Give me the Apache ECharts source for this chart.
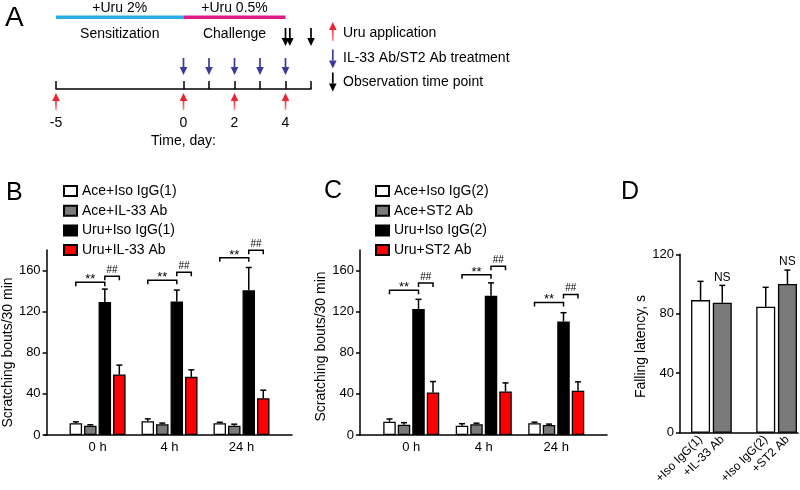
<!DOCTYPE html>
<html><head><meta charset="utf-8">
<script src="https://cdn.jsdelivr.net/npm/echarts@6/dist/echarts.min.js"></script>
<style>html,body{margin:0;padding:0;background:#fff}#c{width:800px;height:490px}</style>
</head><body><div id="c"></div>
<script>
// ---------- Panel A data ----------
const timelineMin = -5, timelineMax = 5;
const timelineTicks = [-5, 0, 1, 2, 3, 4, 5];
const timelineLabels = [-5, 0, 2, 4];
const phaseStart = [-5, 0];
const phaseEnd = [0, 4];
const phaseDose = ['+Uru 2%', '+Uru 0.5%'];
const phaseName = ['Sensitization', 'Challenge'];
const uruDays = [-5, 0, 2, 4];
const abDays = [0, 1, 2, 3, 4];
const obsDays = [4, 4.17, 5];
const arrowLegend = ['Uru application', 'IL-33 Ab/ST2 Ab treatment', 'Observation time point'];

// ---------- Panel B data ----------
const timeCats = ['0 h', '4 h', '24 h'];
const bNames = ['Ace+Iso IgG(1)', 'Ace+IL-33 Ab', 'Uru+Iso IgG(1)', 'Uru+IL-33 Ab'];
const bMeans = [[11.4, 13.5, 11.4], [9, 10.4, 9], [129.5, 130, 140.8], [58.8, 56.6, 35.8]];
const bErr = [[1.4, 2.2, 1.0], [1.0, 1.2, 1.5], [12.5, 11, 22.2], [9.2, 6.8, 7.8]];
const bStarY = [148.6, 150.5, 172.4];
const bHashY = [154.4, 158.3, 179.8];

// ---------- Panel C data ----------
const cNames = ['Ace+Iso IgG(2)', 'Ace+ST2 Ab', 'Uru+Iso IgG(2)', 'Uru+ST2 Ab'];
const cMeans = [[13, 9, 11.4], [10, 10.4, 9.8], [122.6, 135.6, 110.5], [41.3, 42.3, 43]];
const cErr = [[2.6, 2, 1.1], [2, 1.1, 0.8], [9.4, 12.4, 8.5], [10.7, 8.4, 8.7]];
const cStarY = [140.8, 156, 129];
const cHashY = [148, 164.2, 136.6];
const scratchTicks = [0, 40, 80, 120, 160];

// ---------- Panel D data ----------
const dCats = ['+Iso IgG(1)', '+IL-33 Ab', '', '+Iso IgG(2)', '+ST2 Ab'];
const dMeans = [89.2, 87.4, null, 84.7, 100];
const dErr = [12.6, 11.7, null, 13.1, 9.4];
const dSig = ['', 'NS', '', '', 'NS'];
const latencyTicks = [0, 40, 80, 120];

// ---------- styles ----------
const FONT = '"Liberation Sans", Arial, Helvetica, sans-serif';
const BAR_W = 12.5, BAR_STEP = 14.5;
const BAR_COLORS = ['#ffffff', '#7a7a7a', '#000000', '#ff0000'];
const D_COLORS = ['#ffffff', '#7a7a7a', '#ffffff', '#ffffff', '#7a7a7a'];
const PHASE_COLORS = ['#27aee4', '#df1a87'];
const RED = '#ee2430', PINK = '#f7a3aa', BLUE = '#3a3a98', BLACK = '#000000';

function arrow(x, yTail, yTip, color, shaft) {
  const dir = yTip > yTail ? 1 : -1;
  const headL = 8, headW = 3.8;
  const yBase = yTip - dir * headL;
  return [
    { type: 'line', shape: { x1: x, y1: yTail, x2: x, y2: yBase }, style: { stroke: shaft || color, lineWidth: 1.7 } },
    { type: 'polygon', shape: { points: [[x, yTip], [x - headW, yBase], [x + headW, yBase]] }, style: { fill: color } }
  ];
}
function redShaft() {
  return new echarts.graphic.LinearGradient(0, 0, 0, 1, [{ offset: 0, color: RED }, { offset: 1, color: PINK }]);
}

function arrowSeries(days, kind) {
  return {
    type: 'custom', xAxisIndex: 0, yAxisIndex: 0, silent: true, z: 5,
    data: days.map(d => [d, 0]),
    renderItem(params, api) {
      const p = api.coord([api.value(0), 0]);
      const x = p[0], y0 = p[1];
      let ch;
      if (kind === 'uru') ch = arrow(x, y0 + 21, y0 + 4, RED, redShaft());
      else if (kind === 'ab') ch = arrow(x, y0 - 31, y0 - 14, BLUE);
      else ch = arrow(x, y0 - 61, y0 - 43, BLACK);
      return { type: 'group', children: ch };
    }
  };
}

const phaseSeries = {
  type: 'custom', xAxisIndex: 0, yAxisIndex: 0, silent: true,
  data: phaseStart.map((s, i) => [s, phaseEnd[i], i]),
  renderItem(params, api) {
    const a = api.coord([api.value(0), 0]), b = api.coord([api.value(1), 0]);
    const i = api.value(2), y0 = a[1], cx = (a[0] + b[0]) / 2;
    return {
      type: 'group', children: [
        { type: 'rect', shape: { x: a[0], y: y0 - 73.5, width: b[0] - a[0], height: 3.5 }, style: { fill: PHASE_COLORS[i] } },
        { type: 'text', style: { text: phaseDose[i], x: cx, y: y0 - 80.5, align: 'center', verticalAlign: 'middle', font: '14px ' + FONT, fill: '#000' } },
        { type: 'text', style: { text: phaseName[i], x: cx, y: y0 - 55, align: 'center', verticalAlign: 'middle', font: '14px ' + FONT, fill: '#000' } }
      ]
    };
  }
};

function barSeries(names, means, ai) {
  return names.map((n, k) => ({
    type: 'bar', name: n, xAxisIndex: ai, yAxisIndex: ai, data: means[k],
    barWidth: BAR_W, barGap: '16%', silent: true,
    itemStyle: { color: BAR_COLORS[k], borderColor: '#000', borderWidth: 1.3 }
  }));
}
function errSeries(means, errs, ai) {
  const data = [];
  means.forEach((row, k) => row.forEach((m, i) => data.push([i, m, errs[k][i], k])));
  return {
    type: 'custom', xAxisIndex: ai, yAxisIndex: ai, data, z: 5, silent: true,
    renderItem(params, api) {
      const i = api.value(0), m = api.value(1), e = api.value(2), k = api.value(3);
      const top = api.coord([i, m + e]), base = api.coord([i, m]);
      const x = top[0] + (k - 1.5) * BAR_STEP;
      return {
        type: 'group', children: [
          { type: 'line', shape: { x1: x, y1: base[1], x2: x, y2: top[1] }, style: { stroke: '#000', lineWidth: 1.5 } },
          { type: 'line', shape: { x1: x - 3, y1: top[1], x2: x + 3, y2: top[1] }, style: { stroke: '#000', lineWidth: 1.5 } }
        ]
      };
    }
  };
}
function sigSeries(starY, hashY, ai) {
  return {
    type: 'custom', xAxisIndex: ai, yAxisIndex: ai, z: 5, silent: true,
    data: starY.map((s, i) => [i, s, hashY[i]]),
    renderItem(params, api) {
      const i = api.value(0);
      const ps = api.coord([i, api.value(1)]), ph = api.coord([i, api.value(2)]);
      const c = ps[0];
      const xw = c - 1.5 * BAR_STEP, xb = c + 0.5 * BAR_STEP, xr = c + 1.5 * BAR_STEP, L = 4;
      return {
        type: 'group', children: [
          { type: 'polyline', shape: { points: [[xw, ps[1] + L], [xw, ps[1]], [xb, ps[1]], [xb, ps[1] + L]] }, style: { stroke: '#000', lineWidth: 1.5, fill: null } },
          { type: 'polyline', shape: { points: [[xb, ph[1] + L], [xb, ph[1]], [xr, ph[1]], [xr, ph[1] + L]] }, style: { stroke: '#000', lineWidth: 1.5, fill: null } },
          { type: 'text', style: { text: '**', x: (xw + xb) / 2, y: ps[1] - 2.5, align: 'center', verticalAlign: 'middle', font: '13px ' + FONT, fill: '#000' } },
          { type: 'text', style: { text: '##', x: (xb + xr) / 2, y: ph[1] - 6, align: 'center', verticalAlign: 'middle', font: '10px ' + FONT, fill: '#000' } }
        ]
      };
    }
  };
}

const axisLineStyle = { color: '#000', width: 1.5 };
function catX(grid, cats, show) {
  return {
    type: 'category', gridIndex: grid, data: cats,
    axisLine: { show: false }, axisTick: { show: false },
    axisLabel: { show: show, color: '#000', fontSize: 13, margin: 6, interval: 0 },
    splitLine: { show: false }
  };
}
function lineX(grid) {
  return {
    type: 'value', gridIndex: grid, min: 0, max: 1,
    axisLine: { show: true, lineStyle: axisLineStyle }, axisTick: { show: false },
    axisLabel: { show: false }, splitLine: { show: false }
  };
}
function hiddenY(grid) {
  return { type: 'value', gridIndex: grid, min: 0, max: 1, show: false };
}
function valY(grid, max, ticks, offset, name, gap, shift) {
  return {
    type: 'value', gridIndex: grid, min: 0, max: max, offset: offset,
    axisLine: { show: true, lineStyle: axisLineStyle },
    axisTick: { show: true, customValues: ticks, length: 4, lineStyle: axisLineStyle },
    axisLabel: { customValues: ticks, color: '#000', fontSize: 13, margin: 6 },
    splitLine: { show: false },
    name: name, nameLocation: 'middle', nameGap: gap,
    nameTextStyle: { fontSize: 14, color: '#000', padding: [0, shift, 0, 0] }
  };
}

const legendBase = {
  orient: 'vertical', itemWidth: 13, itemHeight: 10, itemGap: 5.7, selectedMode: false,
  icon: 'rect', textStyle: { fontSize: 14, color: '#000' }
};

const chart = echarts.init(document.getElementById('c'), null, { renderer: 'canvas' });
const option = {
  animation: false,
  backgroundColor: '#fff',
  textStyle: { fontFamily: FONT },
  grid: [
    { left: 56, top: 20, width: 255, height: 69 },
    { left: 60, top: 250, width: 217.5, height: 185 },
    { left: 45, top: 250, width: 247, height: 185 },
    { left: 375, top: 250, width: 217.5, height: 185 },
    { left: 360, top: 250, width: 247, height: 185 },
    { left: 689.7, top: 254.3, width: 108.6, height: 178.4 },
    { left: 680, top: 254.3, width: 118, height: 178.4 }
  ],
  xAxis: [
    {
      type: 'value', gridIndex: 0, min: timelineMin, max: timelineMax,
      axisLine: { show: true, lineStyle: axisLineStyle },
      axisTick: { show: true, inside: true, length: 8, customValues: timelineTicks, lineStyle: axisLineStyle },
      axisLabel: { customValues: timelineLabels, color: '#000', fontSize: 14, margin: 27 },
      splitLine: { show: false },
      name: 'Time, day:', nameLocation: 'middle', nameGap: 45,
      nameTextStyle: { fontSize: 14, color: '#000' }
    },
    catX(1, timeCats, true),
    lineX(2),
    catX(3, timeCats, true),
    lineX(4),
    Object.assign(catX(5, dCats, true), { axisLabel: { show: true, color: '#000', fontSize: 12, margin: 5, rotate: 45, interval: 0 } }),
    lineX(6)
  ],
  yAxis: [
    hiddenY(0),
    valY(1, 180, scratchTicks, 15, 'Scratching bouts/30 min', 30, 20),
    hiddenY(2),
    valY(3, 180, scratchTicks, 15, 'Scratching bouts/30 min', 32, 8),
    hiddenY(4),
    valY(5, 120, latencyTicks, 9.7, 'Falling latency, s', 28, 6),
    hiddenY(6)
  ],
  legend: [
    Object.assign({ left: 58, top: 179, data: bNames }, legendBase),
    Object.assign({ left: 370, top: 179, data: cNames }, legendBase)
  ],
  graphic: [
    { type: 'text', left: 5, top: 4, style: { text: 'A', font: '28px ' + FONT, fill: '#000' } },
    { type: 'text', left: 6, top: 181, style: { text: 'B', font: '25px ' + FONT, fill: '#000' } },
    { type: 'text', left: 324, top: 179, style: { text: 'C', font: '25px ' + FONT, fill: '#000' } },
    { type: 'text', left: 621, top: 180, style: { text: 'D', font: '25px ' + FONT, fill: '#000' } },
    { type: 'group', left: 329, top: 22, children: arrow(4, 20, 1, RED, redShaft()) },
    { type: 'group', left: 329, top: 47, children: arrow(4, 1, 20, BLUE) },
    { type: 'group', left: 329, top: 70, children: arrow(4, 1, 20, BLACK) },
    { type: 'text', left: 343, top: 26, style: { text: arrowLegend[0], font: '14px ' + FONT, fill: '#000' } },
    { type: 'text', left: 343, top: 51, style: { text: arrowLegend[1], font: '14px ' + FONT, fill: '#000' } },
    { type: 'text', left: 343, top: 75, style: { text: arrowLegend[2], font: '14px ' + FONT, fill: '#000' } }
  ],
  series: [
    phaseSeries,
    arrowSeries(uruDays, 'uru'),
    arrowSeries(abDays, 'ab'),
    arrowSeries(obsDays, 'obs'),
    ...barSeries(bNames, bMeans, 1),
    errSeries(bMeans, bErr, 1),
    sigSeries(bStarY, bHashY, 1),
    ...barSeries(cNames, cMeans, 3),
    errSeries(cMeans, cErr, 3),
    sigSeries(cStarY, cHashY, 3),
    {
      type: 'bar', xAxisIndex: 5, yAxisIndex: 5, barWidth: 19, silent: true,
      data: dMeans.map((m, i) => m == null ? '-' : { value: m, itemStyle: { color: D_COLORS[i] } }),
      itemStyle: { borderColor: '#000', borderWidth: 1.3 }
    },
    {
      type: 'custom', xAxisIndex: 5, yAxisIndex: 5, z: 5, silent: true,
      data: dMeans.map((m, i) => [i, m, dErr[i]]).filter(d => d[1] != null),
      renderItem(params, api) {
        const i = api.value(0), m = api.value(1), e = api.value(2);
        const top = api.coord([i, m + e]), base = api.coord([i, m]);
        const x = top[0];
        const ch = [
          { type: 'line', shape: { x1: x, y1: base[1], x2: x, y2: top[1] }, style: { stroke: '#000', lineWidth: 1.5 } },
          { type: 'line', shape: { x1: x - 3, y1: top[1], x2: x + 3, y2: top[1] }, style: { stroke: '#000', lineWidth: 1.5 } }
        ];
        if (dSig[i]) ch.push({ type: 'text', style: { text: dSig[i], x: x, y: top[1] - 2, align: 'center', verticalAlign: 'bottom', font: '12px ' + FONT, fill: '#000' } });
        return { type: 'group', children: ch };
      }
    }
  ]
};
chart.setOption(option);
</script>
</body></html>
